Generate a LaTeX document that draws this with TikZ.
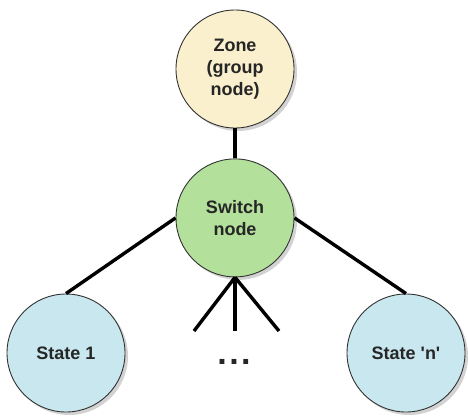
\documentclass[tikz,border=0pt]{standalone}
\usepackage{fontspec}
\setmainfont{Liberation Sans}
\usepackage{tikz}
\usetikzlibrary{positioning,shadows}
\usepackage{xcolor}
\definecolor{zonefill}{HTML}{FAF0CD}
\definecolor{switchfill}{HTML}{B3E09B}
\definecolor{statefill}{HTML}{C8E7EE}

\begin{document}
\begin{tikzpicture}[
  x=1pt, y=-1pt,
  node distance=30pt,
  circ/.style={
    circle, draw=black!80, line width=0.9pt, minimum size=118pt,
    inner sep=0pt, align=center, text=black!85,
    font=\fontsize{18}{22}\selectfont\bfseries,
    drop shadow={shadow xshift=3pt, shadow yshift=-3pt,
      opacity=0.25, fill=black!70}
  },
  link/.style={line width=3.4pt, black},
]
  \useasboundingbox (0,0) rectangle (468,418);

  % Nodes
  \node[circ, fill=zonefill] (zone) at (235,69) {Zone\\(group\\node)};
  \node[circ, fill=switchfill, below=of zone] (switch) {Switch\\node};
  \node[circ, fill=statefill] (state1) at (66,353) {State 1};
  \node[circ, fill=statefill] (staten) at (406,353)
    {State \textquotesingle n\textquotesingle};

  % Open ends of the middle spokes
  \coordinate (spokea) at (194,331);
  \coordinate (spokeb) at (235,331);
  \coordinate (spokec) at (279,331);
  \node[font=\fontsize{34}{34}\selectfont\bfseries, text=black!85]
    (more) at (234,362) {.\kern2.5pt.\kern2.5pt.};

  % Connectors
  \draw[link] (zone) -- (switch);
  \draw[link] (switch.west) -- (state1.north);
  \draw[link] (switch.east) -- (staten.north);
  \draw[link] (switch.south) -- (spokea);
  \draw[link] (switch.south) -- (spokeb);
  \draw[link] (switch.south) -- (spokec);
\end{tikzpicture}
\end{document}
